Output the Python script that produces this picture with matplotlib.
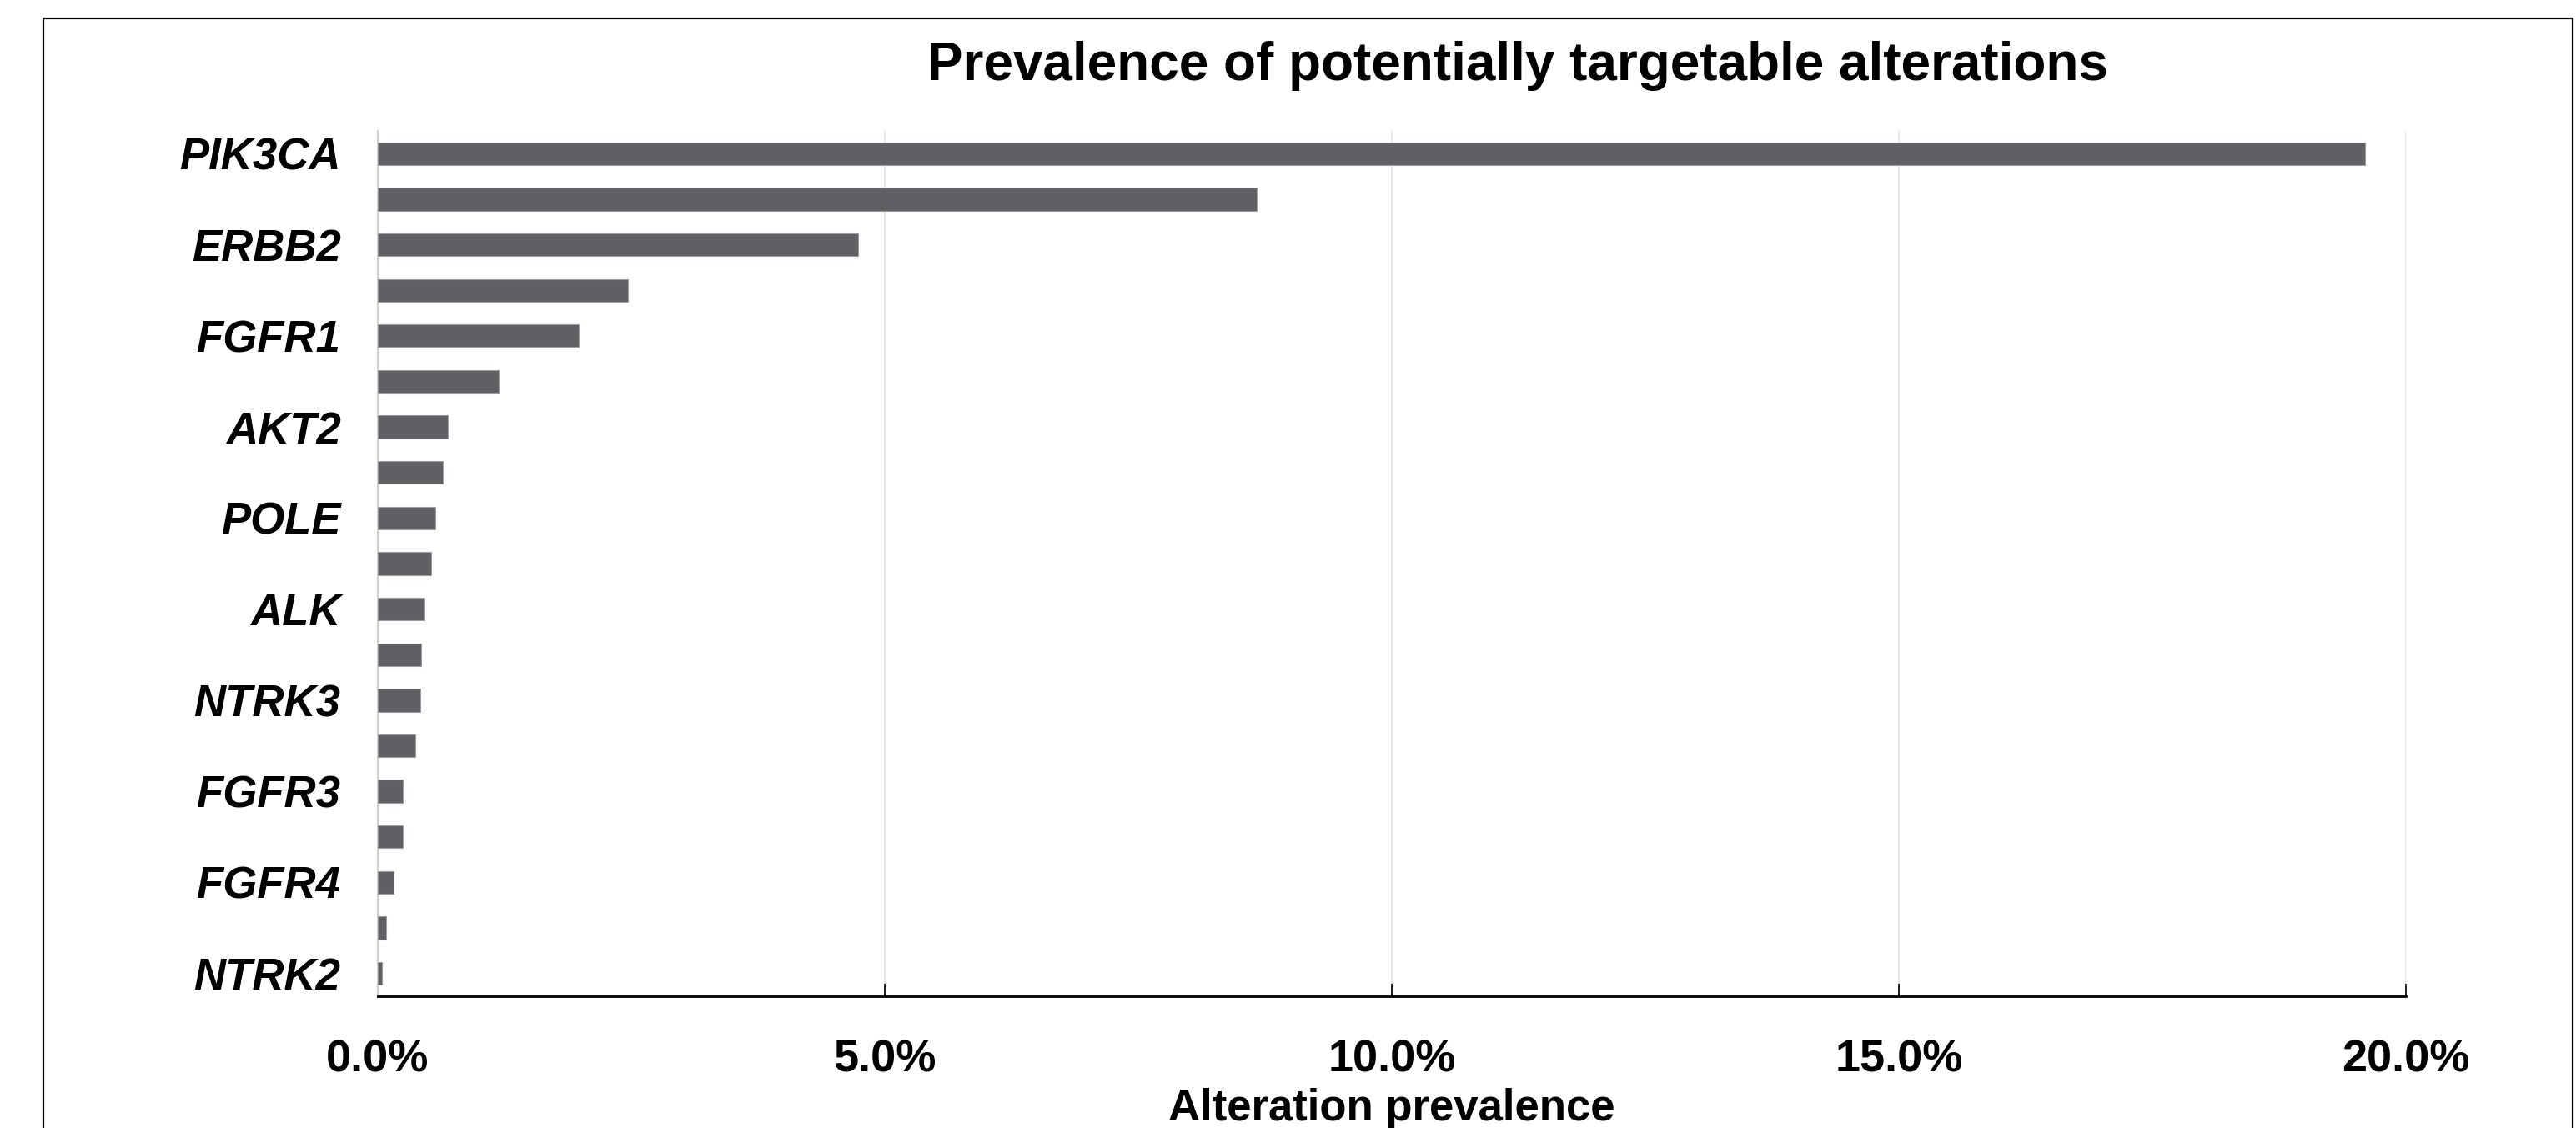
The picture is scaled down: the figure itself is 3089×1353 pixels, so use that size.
import matplotlib
matplotlib.use('Agg')
from matplotlib import pyplot as plt
from matplotlib.patches import Rectangle
from matplotlib.ticker import FuncFormatter

plt.rcParams['font.family'] = ['Liberation Sans', 'DejaVu Sans']

# only every other gene is labelled on the original chart
genes = ['PIK3CA', '', 'ERBB2', '', 'FGFR1', '', 'AKT2', '', 'POLE', '',
         'ALK', '', 'NTRK3', '', 'FGFR3', '', 'FGFR4', '', 'NTRK2']
prevalence = [19.60, 8.67, 4.74, 2.47, 1.98, 1.19, 0.69, 0.64, 0.57, 0.53,
              0.46, 0.43, 0.42, 0.37, 0.25, 0.25, 0.16, 0.08, 0.04]
x_ticks = [0, 5, 10, 15, 20]

W, H = 3089, 1353
fig = plt.figure(figsize=(W / 100, H / 100), dpi=100)
ax = fig.add_axes([453 / W, 1 - 1195 / H, (2885 - 453) / W, (1195 - 157) / H])

pos = list(range(len(genes)))
ax.barh(pos, prevalence, height=0.5, color='#5f6063', edgecolor='#9a9b9d', linewidth=0.8, zorder=3)

ax.set_ylim(len(genes) - 0.5, -0.5)
ax.set_yticks(pos)
ax.set_yticklabels(genes, fontsize=38, fontweight='bold', fontstyle='italic')
ax.tick_params(axis='y', length=0, pad=32)

ax.set_xlim(0, 20)
ax.set_xticks(x_ticks)
ax.xaxis.set_major_formatter(FuncFormatter(lambda v, p: f'{v:.1f}%'))
ax.tick_params(axis='x', direction='in', length=11, width=1.2, labelsize=39, pad=37)
for lbl in ax.get_xticklabels():
    lbl.set_fontweight('bold')
ax.grid(axis='x', color='#e4e4e4', linewidth=1.2, zorder=0)

ax.spines['top'].set_visible(False)
ax.spines['right'].set_visible(False)
ax.spines['left'].set_color('#d0d0d0')
ax.spines['left'].set_linewidth(1.5)
ax.spines['bottom'].set_linewidth(2)

ax.set_xlabel('Alteration prevalence', fontsize=38, fontweight='bold', labelpad=6)

fig.text(1820 / W, 1 - 79 / H, 'Prevalence of potentially targetable alterations',
         fontsize=46, fontweight='bold', ha='center', va='center')

# chart frame, bottom edge lies outside the picture
fig.patches.append(Rectangle((52 / W, -0.05), (3085 - 52) / W, 1 - 22 / H + 0.05,
                             transform=fig.transFigure, fill=False, edgecolor='black',
                             linewidth=1.6, clip_on=False))

fig.savefig('out.png', dpi=100)
